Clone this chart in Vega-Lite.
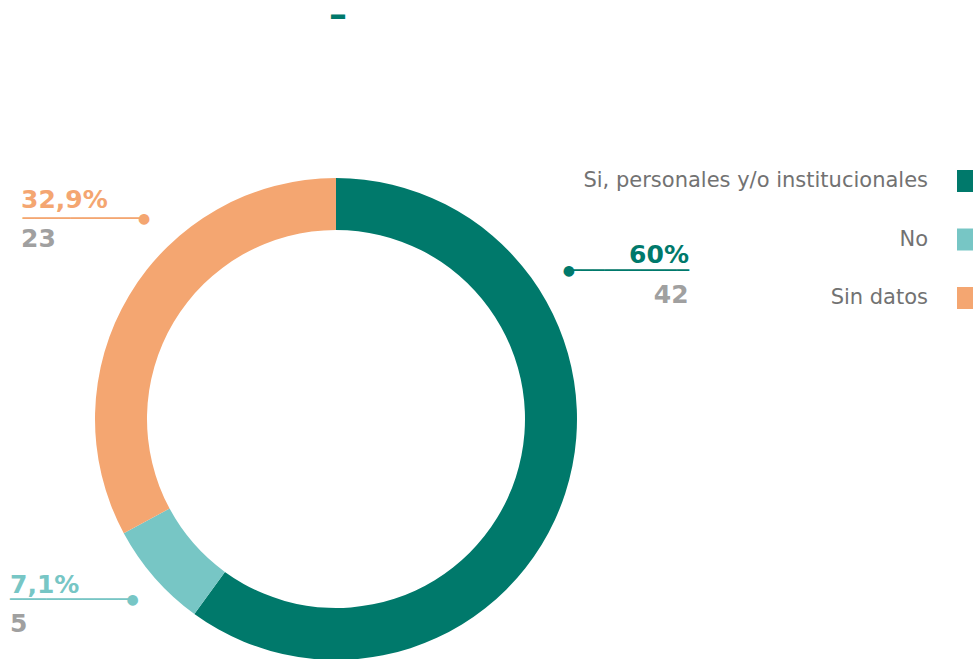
{
  "$schema": "https://vega.github.io/schema/vega-lite/v6.json",
  "width": 672,
  "height": 480,
  "autosize": {"type": "none"},
  "padding": {"left": 0, "top": 179, "right": 301, "bottom": 0},
  "background": "white",
  "title": {"text": "–", "anchor": "middle", "font": "DejaVu Sans", "fontSize": 36, "fontWeight": "bold", "color": "#00796B", "offset": -46, "baseline": "alphabetic", "dx": 2},
  "data": {"values": [
    {"categoria": "Si, personales y/o institucionales", "valor": 42, "pct": "60%", "orden": 1},
    {"categoria": "No", "valor": 5, "pct": "7,1%", "orden": 2},
    {"categoria": "Sin datos", "valor": 23, "pct": "32,9%", "orden": 3}
  ]},
  "config": {"view": {"stroke": null}},
  "layer": [
    {
      "mark": {"type": "arc", "outerRadius": 241, "innerRadius": 189},
      "encoding": {
        "theta": {"field": "valor", "type": "quantitative", "stack": true},
        "order": {"field": "orden", "type": "quantitative"},
        "color": {
          "field": "categoria", "type": "nominal",
          "scale": {"domain": ["Si, personales y/o institucionales", "No", "Sin datos"], "range": ["#00796B", "#77C6C5", "#F4A671"]},
          "legend": {"orient": "none", "legendX": 957, "legendY": -9, "symbolType": "square", "symbolSize": 484, "symbolStrokeWidth": 0, "labelAlign": "right", "labelOffset": -51, "labelFont": "DejaVu Sans", "labelFontSize": 21, "labelColor": "#727272", "rowPadding": 36.5, "title": null, "labelLimit": 0}
        }
      }
    },
    {
      "mark": {"type": "text", "radius": 275, "align": "right", "baseline": "alphabetic", "dx": 91.4, "dy": -241, "font": "DejaVu Sans", "fontWeight": "bold", "fontSize": 25, "color": "#00796B"},
      "encoding": {"theta": {"field": "valor", "type": "quantitative", "stack": true}, "order": {"field": "orden", "type": "quantitative"},
        "text": {"condition": {"test": "datum.categoria === 'Si, personales y/o institucionales'", "field": "pct"}, "value": ""}}
    },
    {
      "mark": {"type": "text", "radius": 275, "align": "right", "baseline": "alphabetic", "dx": 91, "dy": -201, "font": "DejaVu Sans", "fontWeight": "bold", "fontSize": 25, "color": "#A0A0A0"},
      "encoding": {"theta": {"field": "valor", "type": "quantitative", "stack": true}, "order": {"field": "orden", "type": "quantitative"},
        "text": {"condition": {"test": "datum.categoria === 'Si, personales y/o institucionales'", "field": "valor"}, "value": ""}}
    },
    {
      "mark": {"type": "text", "radius": 275, "align": "right", "baseline": "alphabetic", "dx": 91.4, "dy": -226.5, "font": "DejaVu Sans", "fontSize": 20, "color": "#00796B"},
      "encoding": {"theta": {"field": "valor", "type": "quantitative", "stack": true}, "order": {"field": "orden", "type": "quantitative"},
        "text": {"condition": {"test": "datum.categoria === 'Si, personales y/o institucionales'", "value": "──────────"}, "value": ""}}
    },
    {
      "mark": {"type": "text", "radius": 275, "align": "center", "baseline": "alphabetic", "dx": -28.6, "dy": -228.5, "font": "DejaVu Sans", "fontSize": 14, "color": "#00796B"},
      "encoding": {"theta": {"field": "valor", "type": "quantitative", "stack": true}, "order": {"field": "orden", "type": "quantitative"},
        "text": {"condition": {"test": "datum.categoria === 'Si, personales y/o institucionales'", "value": "●"}, "value": ""}}
    },
    {
      "mark": {"type": "text", "radius": 275, "align": "left", "baseline": "alphabetic", "dx": -118.9, "dy": -7.3, "font": "DejaVu Sans", "fontWeight": "bold", "fontSize": 25, "color": "#77C6C5"},
      "encoding": {"theta": {"field": "valor", "type": "quantitative", "stack": true}, "order": {"field": "orden", "type": "quantitative"},
        "text": {"condition": {"test": "datum.categoria === 'No'", "field": "pct"}, "value": ""}}
    },
    {
      "mark": {"type": "text", "radius": 275, "align": "left", "baseline": "alphabetic", "dx": -118.9, "dy": 31.7, "font": "DejaVu Sans", "fontWeight": "bold", "fontSize": 25, "color": "#A0A0A0"},
      "encoding": {"theta": {"field": "valor", "type": "quantitative", "stack": true}, "order": {"field": "orden", "type": "quantitative"},
        "text": {"condition": {"test": "datum.categoria === 'No'", "field": "valor"}, "value": ""}}
    },
    {
      "mark": {"type": "text", "radius": 275, "align": "left", "baseline": "alphabetic", "dx": -118.9, "dy": 6.5, "font": "DejaVu Sans", "fontSize": 20, "color": "#77C6C5"},
      "encoding": {"theta": {"field": "valor", "type": "quantitative", "stack": true}, "order": {"field": "orden", "type": "quantitative"},
        "text": {"condition": {"test": "datum.categoria === 'No'", "value": "──────────"}, "value": ""}}
    },
    {
      "mark": {"type": "text", "radius": 275, "align": "center", "baseline": "alphabetic", "dx": 3.8, "dy": 4.5, "font": "DejaVu Sans", "fontSize": 14, "color": "#77C6C5"},
      "encoding": {"theta": {"field": "valor", "type": "quantitative", "stack": true}, "order": {"field": "orden", "type": "quantitative"},
        "text": {"condition": {"test": "datum.categoria === 'No'", "value": "●"}, "value": ""}}
    },
    {
      "mark": {"type": "text", "radius": 275, "align": "left", "baseline": "alphabetic", "dx": -78.9, "dy": -70.3, "font": "DejaVu Sans", "fontWeight": "bold", "fontSize": 25, "color": "#F4A671"},
      "encoding": {"theta": {"field": "valor", "type": "quantitative", "stack": true}, "order": {"field": "orden", "type": "quantitative"},
        "text": {"condition": {"test": "datum.categoria === 'Sin datos'", "field": "pct"}, "value": ""}}
    },
    {
      "mark": {"type": "text", "radius": 275, "align": "left", "baseline": "alphabetic", "dx": -78.9, "dy": -30.7, "font": "DejaVu Sans", "fontWeight": "bold", "fontSize": 25, "color": "#A0A0A0"},
      "encoding": {"theta": {"field": "valor", "type": "quantitative", "stack": true}, "order": {"field": "orden", "type": "quantitative"},
        "text": {"condition": {"test": "datum.categoria === 'Sin datos'", "field": "valor"}, "value": ""}}
    },
    {
      "mark": {"type": "text", "radius": 275, "align": "left", "baseline": "alphabetic", "dx": -77.2, "dy": -53.2, "font": "DejaVu Sans", "fontSize": 20, "color": "#F4A671"},
      "encoding": {"theta": {"field": "valor", "type": "quantitative", "stack": true}, "order": {"field": "orden", "type": "quantitative"},
        "text": {"condition": {"test": "datum.categoria === 'Sin datos'", "value": "──────────"}, "value": ""}}
    },
    {
      "mark": {"type": "text", "radius": 275, "align": "center", "baseline": "alphabetic", "dx": 44.1, "dy": -55.2, "font": "DejaVu Sans", "fontSize": 14, "color": "#F4A671"},
      "encoding": {"theta": {"field": "valor", "type": "quantitative", "stack": true}, "order": {"field": "orden", "type": "quantitative"},
        "text": {"condition": {"test": "datum.categoria === 'Sin datos'", "value": "●"}, "value": ""}}
    }
  ]
}
